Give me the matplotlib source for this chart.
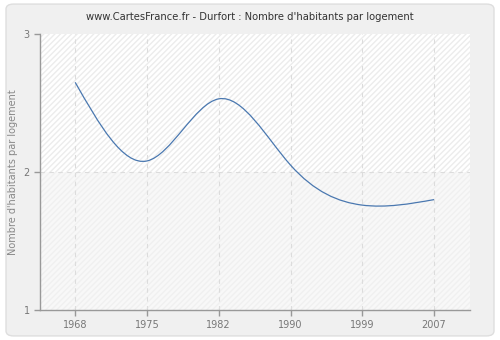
import numpy as np
import matplotlib
matplotlib.use("Agg")
import matplotlib.pyplot as plt
from matplotlib.path import Path
from matplotlib.patches import PathPatch, FancyBboxPatch

years = ["1968", "1975", "1982", "1990", "1999", "2007"]
values = [2.65, 2.08, 2.53, 2.05, 1.76, 1.80]
y_ticks = [1, 2, 3]

title = "www.CartesFrance.fr - Durfort : Nombre d'habitants par logement"
y_label = "Nombre d'habitants par logement"


def smooth_path(ys):
    # spline cubique naturelle (pas = 1) convertie en segments de Bezier
    ys = np.asarray(ys, dtype=float)
    n = len(ys)
    A = np.zeros((n, n))
    r = np.zeros(n)
    A[0, 0] = A[-1, -1] = 1
    for i in range(1, n - 1):
        A[i, i - 1], A[i, i], A[i, i + 1] = 1, 4, 1
        r[i] = 6 * (ys[i + 1] - 2 * ys[i] + ys[i - 1])
    M = np.linalg.solve(A, r)
    d = np.zeros(n)
    for i in range(n - 1):
        d[i] = (ys[i + 1] - ys[i]) - (2 * M[i] + M[i + 1]) / 6
    d[-1] = (ys[-1] - ys[-2]) + (M[-2] + 2 * M[-1]) / 6
    verts = [(0, ys[0])]
    codes = [Path.MOVETO]
    for i in range(n - 1):
        verts.append((i + 1 / 3, ys[i] + d[i] / 3))
        verts.append((i + 1 - 1 / 3, ys[i + 1] - d[i + 1] / 3))
        verts.append((i + 1, ys[i + 1]))
        codes += [Path.CURVE4] * 3
    return Path(verts, codes)


fig = plt.figure(figsize=(5, 3.4), dpi=100)
fig.patch.set_facecolor("white")
frame = FancyBboxPatch((0.012, 0.012), 0.976, 0.976,
                       boxstyle="round,pad=0,rounding_size=0.015",
                       transform=fig.transFigure, facecolor="#f0f0f0",
                       edgecolor="#dedede", linewidth=1, zorder=-10)
fig.patches.append(frame)

ax = fig.add_axes([40 / 500, 30 / 340, 430 / 500, 276 / 340])
ax.set_facecolor("#fafafa")
# bandes hachurees
ax.axhspan(2, 3, facecolor="white", edgecolor="#ececec", hatch="//////", linewidth=0, zorder=0)
ax.axhspan(1, 2, facecolor="#f8f8f8", edgecolor="#f0f0f0", hatch="//////", linewidth=0, zorder=0)

x = np.arange(len(years))
ax.add_patch(PathPatch(smooth_path(values), facecolor="none", edgecolor="#4a78b0",
                       linewidth=0.9, zorder=3))

ax.set_xlim(-0.49, len(years) - 0.5)
ax.set_ylim(1, 3)
ax.set_xticks(x)
ax.set_xticklabels(years)
ax.set_yticks(y_ticks)

for xi in x:
    ax.axvline(xi, color="#dcdcdc", linestyle=(0, (4, 4)), linewidth=0.8, zorder=1)
ax.axhline(2, color="#dcdcdc", linestyle=(0, (4, 4)), linewidth=0.8, zorder=1)

for side in ["top", "right"]:
    ax.spines[side].set_visible(False)
for side in ["left", "bottom"]:
    ax.spines[side].set_color("#999999")
    ax.spines[side].set_linewidth(1)

ax.tick_params(axis="both", colors="#999999", labelcolor="#777777", labelsize=7, length=4, width=1)
ax.set_ylabel(y_label, fontsize=7, color="#888888", labelpad=4)
fig.text(0.5, 0.95, title, ha="center", va="center", fontsize=7.2, color="#333333")

fig.savefig("out.png", dpi=100, facecolor=fig.get_facecolor())
